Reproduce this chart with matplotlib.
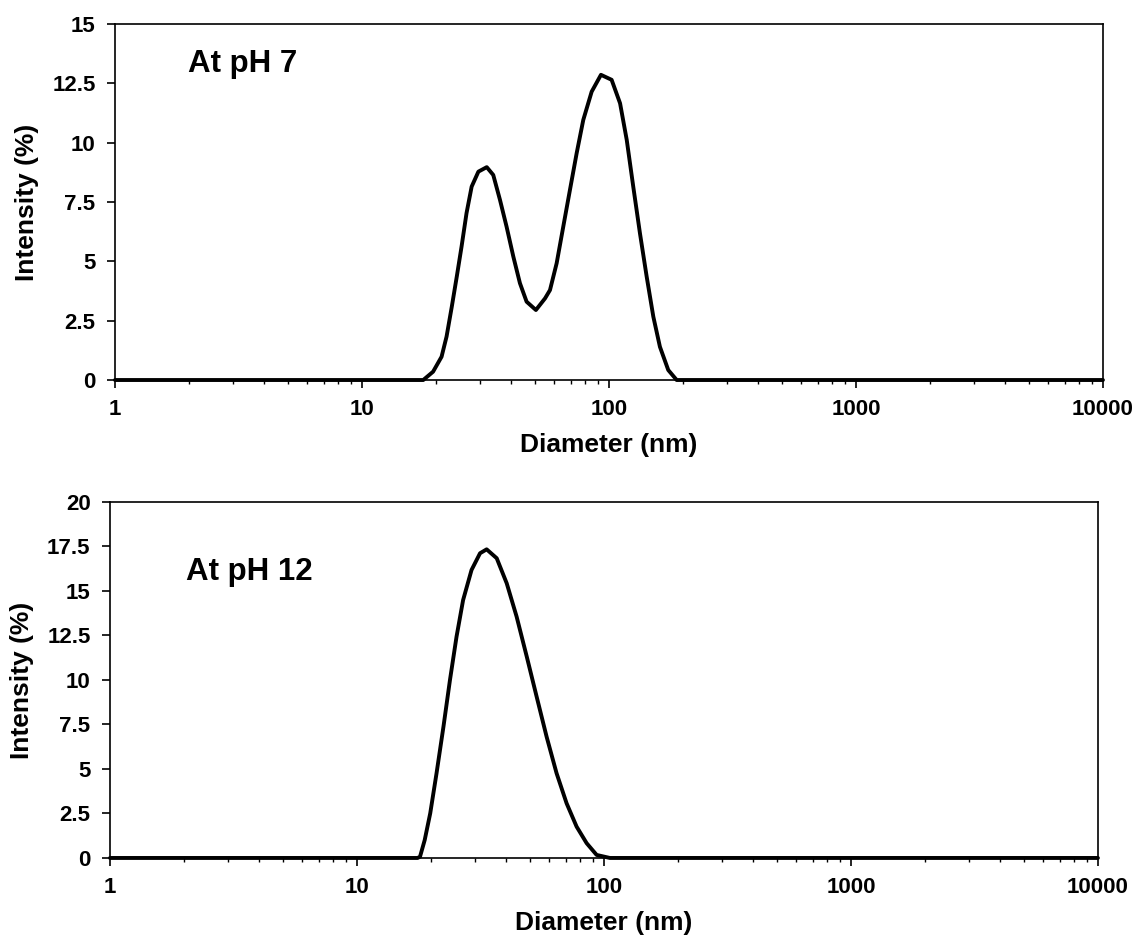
import matplotlib
matplotlib.use("Agg")
import matplotlib.pyplot as plt
from matplotlib import ticker

plt.rcParams['font.family'] = ['Liberation Sans', 'DejaVu Sans']
plt.rcParams['font.weight'] = 'bold'

# ---- data ----
d_ph7 = [1, 5, 10, 16, 17.7, 19.4, 21.0, 22.0, 23.1, 24.2, 25.3, 26.5, 27.8, 29.6,
         32.0, 34.0, 36.2, 38.5, 41.0, 43.6, 46.4, 50.6, 55.1, 57.7, 61.4, 65.3,
         69.5, 74.0, 78.7, 85.1, 92.8, 102.5, 110.9, 118, 125.4, 133.5, 142.1,
         151.2, 160.8, 173.8, 188, 250, 1000, 5000, 10000]
i_ph7 = [0, 0, 0, 0, 0, 0.35, 0.98, 1.83, 3.09, 4.36, 5.62, 7.03, 8.15, 8.78,
         8.97, 8.64, 7.59, 6.46, 5.2, 4.08, 3.30, 2.95, 3.44, 3.79, 4.92, 6.46,
         8.01, 9.56, 10.96, 12.15, 12.86, 12.65, 11.66, 10.12, 8.15, 6.18, 4.36,
         2.67, 1.40, 0.42, 0, 0, 0, 0, 0]

d_ph12 = [1, 5, 10, 15, 17.6, 18.0, 18.8, 19.8, 21.0, 22.4, 23.8, 25.3, 26.9, 29.1,
          31.5, 33.5, 36.8, 40.4, 44.3, 48.7, 53.4, 58.6, 64.3, 70.6, 77.5, 85.1,
          93.4, 105.7, 150, 1000, 5000, 10000]
i_ph12 = [0, 0, 0, 0, 0, 0.07, 1.0, 2.51, 4.76, 7.38, 10.0, 12.43, 14.49, 16.18,
          17.12, 17.34, 16.84, 15.43, 13.56, 11.31, 9.06, 6.81, 4.76, 3.07, 1.76,
          0.83, 0.17, 0, 0, 0, 0, 0]

x_ticks = [1, 10, 100, 1000, 10000]
x_ticklabels = ['1', '10', '100', '1000', '10000']
y_ticks_ph7 = [0, 2.5, 5, 7.5, 10, 12.5, 15]
y_ticks_ph12 = [0, 2.5, 5, 7.5, 10, 12.5, 15, 17.5, 20]
panel_labels = ['At pH 7', 'At pH 12']
x_label = 'Diameter (nm)'
y_label = 'Intensity (%)'

fig = plt.figure(figsize=(11.42, 9.39), dpi=100)
ax1 = fig.add_axes([0.1007, 0.5953, 0.8651, 0.3791])
ax2 = fig.add_axes([0.0963, 0.0863, 0.8651, 0.3791])

panels = [
    (ax1, d_ph7, i_ph7, y_ticks_ph7, panel_labels[0], (0.074, 0.865)),
    (ax2, d_ph12, i_ph12, y_ticks_ph12, panel_labels[1], (0.077, 0.781)),
]

for ax, d, v, yt, lab, pos in panels:
    ax.plot(d, v, color='black', lw=2.8, clip_on=False, solid_joinstyle='round',
            solid_capstyle='round', zorder=3)
    ax.set_xscale('log')
    ax.set_xlim(1, 10000)
    ax.set_ylim(yt[0], yt[-1])
    ax.set_xticks(x_ticks)
    ax.set_xticklabels(x_ticklabels)
    ax.xaxis.set_minor_locator(ticker.LogLocator(base=10, subs=range(2, 10), numticks=20))
    ax.xaxis.set_minor_formatter(ticker.NullFormatter())
    ax.set_yticks(yt)
    ax.set_yticklabels(['{:g}'.format(t) for t in yt])
    ax.tick_params(axis='both', which='major', direction='out', length=5.5, width=1.2,
                   labelsize=16, pad=8.5, colors='black')
    ax.tick_params(axis='x', which='minor', direction='out', length=3, width=1.0)
    ax.tick_params(axis='y', which='minor', left=False)
    for lbl in ax.get_xticklabels() + ax.get_yticklabels():
        lbl.set_fontweight('bold')
    for s in ax.spines.values():
        s.set_linewidth(1.2)
        s.set_color('black')
    ax.set_xlabel(x_label, fontsize=19, fontweight='bold')
    ax.set_ylabel(y_label, fontsize=19, fontweight='bold')
    ax.xaxis.set_label_coords(0.5, -0.15)
    ax.xaxis.label.set_va('top')
    ax.yaxis.set_label_coords(-0.077, 0.5)
    ax.text(pos[0], pos[1], lab, transform=ax.transAxes, fontsize=22.5,
            fontweight='bold', ha='left', va='baseline')

fig.savefig('out.png', dpi=100, facecolor='white')
